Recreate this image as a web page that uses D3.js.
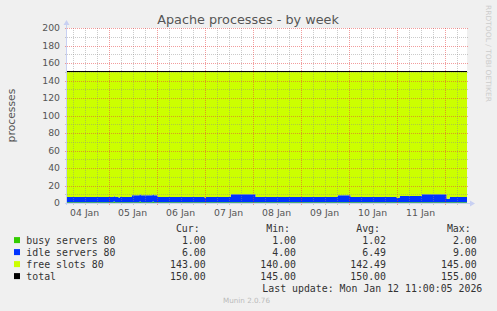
<!DOCTYPE html>
<html>
<head>
<meta charset="utf-8">
<script src="https://cdn.jsdelivr.net/npm/d3@7"></script>
<style>
  html, body { margin: 0; padding: 0; background: #f0f0f0; }
  svg { display: block; }
  text { font-family: "DejaVu Sans", sans-serif; }
  .mono { font-family: "DejaVu Sans Mono", monospace; font-size: 9.9px; fill: #333; }
</style>
</head>
<body>
<svg id="chart" width="497" height="311"></svg>
<script>
// samples where a value changes (UTC)
var times = [
    "2026-01-04T03:00", "2026-01-05T02:30", "2026-01-05T03:00", "2026-01-05T05:00",
    "2026-01-05T05:30", "2026-01-05T11:30", "2026-01-05T15:30", "2026-01-05T16:00",
    "2026-01-05T22:00", "2026-01-05T22:30", "2026-01-06T00:30", "2026-01-07T00:00",
    "2026-01-07T00:30", "2026-01-07T13:00", "2026-01-08T01:30", "2026-01-09T18:30",
    "2026-01-10T01:00", "2026-01-11T00:00", "2026-01-11T01:30", "2026-01-11T12:30",
    "2026-01-12T01:00", "2026-01-12T02:30", "2026-01-12T11:10"
];
var busy  = [1, 2, 1, 1, 1, 1, 2, 1, 2, 1, 1, 1, 1, 1, 1, 1, 1, 1, 1, 1, 1, 1, 1];
var idle  = [6, 6, 6, 5, 6, 8, 8, 8, 8, 8, 6, 5, 6, 9, 6, 8, 6, 5, 7, 9, 4, 6, 6];
var free  = [143, 142, 143, 144, 143, 141, 140, 141, 140, 141, 143, 144, 143, 140, 143, 141, 143, 144, 142, 140, 145, 143, 143];
var total = [150, 150, 150, 150, 150, 150, 150, 150, 150, 150, 150, 150, 150, 150, 150, 150, 150, 150, 150, 150, 150, 150, 150];

var yTicks = [0, 20, 40, 60, 80, 100, 120, 140, 160, 180, 200];
var dayLabels = ["04 Jan", "05 Jan", "06 Jan", "07 Jan", "08 Jan", "09 Jan", "10 Jan", "11 Jan"];

var legendNames = ["busy servers 80", "idle servers 80", "free slots 80", "total"];
var legendColors = ["#33cc00", "#0033ff", "#ccff00", "#000000"];
var curVals = ["1.00", "6.00", "143.00", "150.00"];
var minVals = ["1.00", "4.00", "140.00", "145.00"];
var avgVals = ["1.02", "6.49", "142.49", "150.00"];
var maxVals = ["2.00", "9.00", "145.00", "155.00"];

var parse = d3.utcParse("%Y-%m-%dT%H:%M");
var rows = times.map(function(t, i) {
    return { t: parse(t), busy: busy[i], idle: idle[i], free: free[i], total: total[i] };
});

var plotL = 67, plotR = 467, plotT = 28, plotB = 203;
var svg = d3.select("#chart");

var x = d3.scaleUtc()
    .domain([parse("2026-01-04T03:10"), parse("2026-01-12T11:10")])
    .range([plotL, plotR]);
var y = d3.scaleLinear().domain([0, 200]).range([plotB, plotT]);

// canvas
svg.append("rect")
    .attr("x", plotL).attr("y", plotT)
    .attr("width", plotR - plotL).attr("height", plotB - plotT)
    .attr("fill", "#ffffff");

// stacked areas
var stack = d3.stack().keys(["busy", "idle", "free"]);
var series = stack(rows);
var area = d3.area()
    .curve(d3.curveStepAfter)
    .x(function(d) { return x(d.data.t); })
    .y0(function(d) { return y(d[0]); })
    .y1(function(d) { return y(d[1]); });

var clip = svg.append("clipPath").attr("id", "plotclip");
clip.append("rect")
    .attr("x", plotL).attr("y", plotT)
    .attr("width", plotR - plotL).attr("height", plotB - plotT);

svg.append("g").attr("clip-path", "url(#plotclip)")
    .selectAll("path.area").data(series).enter().append("path")
    .attr("class", "area")
    .attr("d", area)
    .attr("fill", function(d, i) { return legendColors[i]; });

// grid, drawn over the data like rrdtool does
var grid = svg.append("g").attr("shape-rendering", "crispEdges");
var minorY = d3.range(10, 201, 20);
var hourTicks = x.ticks(d3.utcHour.every(6));

grid.selectAll("line.vminor").data(hourTicks.filter(function(d) { return d.getUTCHours() != 0; }))
    .enter().append("line")
    .attr("x1", function(d) { return Math.round(x(d)) + 0.5; })
    .attr("x2", function(d) { return Math.round(x(d)) + 0.5; })
    .attr("y1", plotT).attr("y2", plotB + 2)
    .attr("stroke", "rgba(140,140,140,0.45)")
    .attr("stroke-dasharray", "1,1");

grid.selectAll("line.hminor").data(minorY).enter().append("line")
    .attr("x1", plotL - 2).attr("x2", plotR + 2)
    .attr("y1", function(d) { return Math.round(y(d)) + 0.5; })
    .attr("y2", function(d) { return Math.round(y(d)) + 0.5; })
    .attr("stroke", "rgba(140,140,140,0.45)")
    .attr("stroke-dasharray", "1,1");

var days = x.ticks(d3.utcDay.every(1));
grid.selectAll("line.vmajor").data(days).enter().append("line")
    .attr("x1", function(d) { return Math.round(x(d)) + 0.5; })
    .attr("x2", function(d) { return Math.round(x(d)) + 0.5; })
    .attr("y1", plotT).attr("y2", plotB + 2)
    .attr("stroke", "rgba(230,60,60,0.5)")
    .attr("stroke-dasharray", "1,1");

grid.selectAll("line.hmajor").data(yTicks.slice(1)).enter().append("line")
    .attr("x1", plotL - 2).attr("x2", plotR + 2)
    .attr("y1", function(d) { return Math.round(y(d)) + 0.5; })
    .attr("y2", function(d) { return Math.round(y(d)) + 0.5; })
    .attr("stroke", "rgba(230,60,60,0.5)")
    .attr("stroke-dasharray", "1,1");

// total line
var line = d3.line()
    .curve(d3.curveStepAfter)
    .x(function(d) { return x(d.t); })
    .y(function(d) { return y(d.total); });
svg.append("path")
    .datum(rows)
    .attr("clip-path", "url(#plotclip)")
    .attr("d", line)
    .attr("fill", "none")
    .attr("stroke", "#000")
    .attr("stroke-width", 1)
    .attr("shape-rendering", "crispEdges");

// axes with arrows
var axisColor = "#c8d0f2";
svg.append("line")
    .attr("x1", plotL - 0.5).attr("x2", plotL - 0.5)
    .attr("y1", plotB + 2).attr("y2", plotT - 4)
    .attr("stroke", axisColor);
svg.append("path")
    .attr("d", "M" + (plotL - 3.5) + "," + (plotT - 3) + "L" + (plotL - 0.5) + "," + (plotT - 8) + "L" + (plotL + 2.5) + "," + (plotT - 3) + "Z")
    .attr("fill", axisColor);
svg.append("line")
    .attr("x1", plotL - 2).attr("x2", plotR + 4)
    .attr("y1", plotB + 0.5).attr("y2", plotB + 0.5)
    .attr("stroke", axisColor);
svg.append("path")
    .attr("d", "M" + (plotR + 3) + "," + (plotB - 2.5) + "L" + (plotR + 8) + "," + (plotB + 0.5) + "L" + (plotR + 3) + "," + (plotB + 3.5) + "Z")
    .attr("fill", axisColor);

// y labels
svg.selectAll("text.ylab").data(yTicks).enter().append("text")
    .attr("x", plotL - 7)
    .attr("y", function(d) { return y(d) + 3.4; })
    .attr("text-anchor", "end")
    .attr("font-size", "9.3px")
    .attr("fill", "#555")
    .text(function(d) { return d; });

// day labels at noon
var noons = days.map(function(d) { return d3.utcHour.offset(d, -12); });
svg.selectAll("text.xlab").data(dayLabels).enter().append("text")
    .attr("x", function(d, i) { return x(noons[i]); })
    .attr("y", 216)
    .attr("text-anchor", "middle")
    .attr("font-size", "9.3px")
    .attr("fill", "#555")
    .text(function(d) { return d; });

svg.append("text")
    .attr("x", 248).attr("y", 24)
    .attr("text-anchor", "middle")
    .attr("font-size", "12.8px")
    .attr("fill", "#555")
    .text("Apache processes - by week");

svg.append("text")
    .attr("transform", "translate(15," + ((plotT + plotB) / 2) + ") rotate(-90)")
    .attr("text-anchor", "middle")
    .attr("font-size", "10.8px")
    .attr("fill", "#555")
    .text("processes");

svg.append("text")
    .attr("transform", "translate(485.5,5) rotate(90)")
    .attr("font-size", "7.2px")
    .attr("fill", "#ccc")
    .attr("textLength", 97)
    .attr("lengthAdjust", "spacingAndGlyphs")
    .text("RRDTOOL / TOBI OETIKER");

// legend
var headY = 231.5, rowY0 = 243.6, rowStep = 12;
var cols = [
    { head: "Cur:", right: 205.7, vals: curVals },
    { head: "Min:", right: 296, vals: minVals },
    { head: "Avg:", right: 386, vals: avgVals },
    { head: "Max:", right: 476.7, vals: maxVals }
];
cols.forEach(function(c) {
    svg.append("text").attr("class", "mono")
        .attr("x", c.right - 6).attr("y", headY)
        .attr("text-anchor", "end")
        .text(c.head);
    svg.selectAll(null).data(c.vals).enter().append("text")
        .attr("class", "mono")
        .attr("x", c.right)
        .attr("y", function(d, i) { return rowY0 + i * rowStep; })
        .attr("text-anchor", "end")
        .text(function(d) { return d; });
});

legendNames.forEach(function(name, i) {
    svg.append("rect")
        .attr("x", 14).attr("y", rowY0 + i * rowStep - 6.5)
        .attr("width", 6).attr("height", 6)
        .attr("fill", legendColors[i]);
    svg.append("text").attr("class", "mono")
        .attr("x", 26.3).attr("y", rowY0 + i * rowStep)
        .text(name);
});

svg.append("text").attr("class", "mono")
    .attr("x", 482.3).attr("y", rowY0 + 4 * rowStep)
    .attr("text-anchor", "end")
    .text("Last update: Mon Jan 12 11:00:05 2026");

svg.append("text")
    .attr("x", 223).attr("y", 302.5)
    .attr("font-size", "7.2px")
    .attr("fill", "#bbb")
    .text("Munin 2.0.76");
</script>
</body>
</html>
